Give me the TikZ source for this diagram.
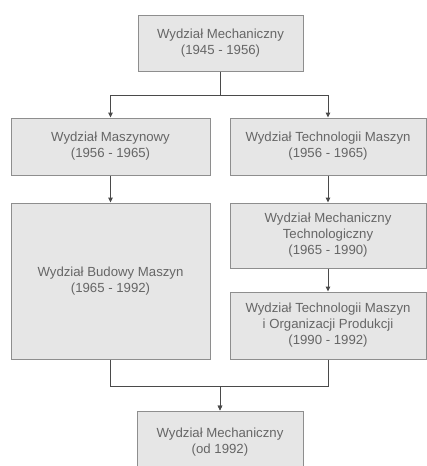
\documentclass[tikz,border=0pt]{standalone}
\usepackage{fontspec}
\setmainfont{Liberation Sans}
\usetikzlibrary{arrows.meta}
\definecolor{boxfill}{HTML}{E6E6E6}
\definecolor{boxline}{HTML}{8E8E8E}
\definecolor{txt}{HTML}{666666}
\definecolor{conn}{HTML}{4A4A4A}
\definecolor{shadowc}{HTML}{A0A0A0}
\tikzset{
  x=1pt,y=1pt,
  box/.style={draw=boxline, fill=boxfill, line width=1pt, align=center, text=txt,
    font=\fontsize{13.2}{16}\selectfont, inner sep=0pt},
  conline/.style={draw=conn, line width=1pt},
  arr/.style={conline, -{Triangle[length=5pt,width=4.5pt]}},
}
\begin{document}
\begin{tikzpicture}
\useasboundingbox (0,0) rectangle (427,-466);
\fill[white] (0,0) rectangle (427,-466);
% shadows
\foreach \a/\b/\c/\d in {138/15/303/71, 11/118/210/175, 230/118/426/175, 11/203/210/359, 230/203/426/268, 230/292/426/359, 137/411/303/473}
  \fill[shadowc] (\a+1.2,-\b-1.2) rectangle (\c+1.2,-\d-1.2);
\node[box, minimum width=165, minimum height=56] (top) at (220.5,-43) {Wydział Mechaniczny\\(1945 - 1956)};
\node[box, minimum width=199, minimum height=57] (l1) at (110.5,-146.5) {Wydział Maszynowy\\(1956 - 1965)};
\node[box, minimum width=196, minimum height=57] (r1) at (328,-146.5) {Wydział Technologii Maszyn\\(1956 - 1965)};
\node[box, minimum width=199, minimum height=156] (big) at (110.5,-281) {Wydział Budowy Maszyn\\(1965 - 1992)};
\node[box, minimum width=196, minimum height=65] (r2) at (328,-235.5) {Wydział Mechaniczny\\Technologiczny\\(1965 - 1990)};
\node[box, minimum width=196, minimum height=67] (r3) at (328,-325.5) {Wydział Technologii Maszyn\\i Organizacji Produkcji\\(1990 - 1992)};
\node[box, minimum width=166, minimum height=62] (bot) at (220,-442) {Wydział Mechaniczny\\(od 1992)};
% connectors
\draw[arr] (top.south) -- ++(0,-24) -| (l1.north);
\draw[arr] (top.south) -- ++(0,-24) -| (r1.north);
\draw[arr] (l1.south) -- (big.north);
\draw[arr] (r1.south) -- (r2.north);
\draw[arr] (r2.south) -- (r3.north);
\draw[arr] (big.south) -- ++(0,-27) -| (bot.north);
\draw[arr] (r3.south) -- ++(0,-27) -| (bot.north);
\end{tikzpicture}
\end{document}
